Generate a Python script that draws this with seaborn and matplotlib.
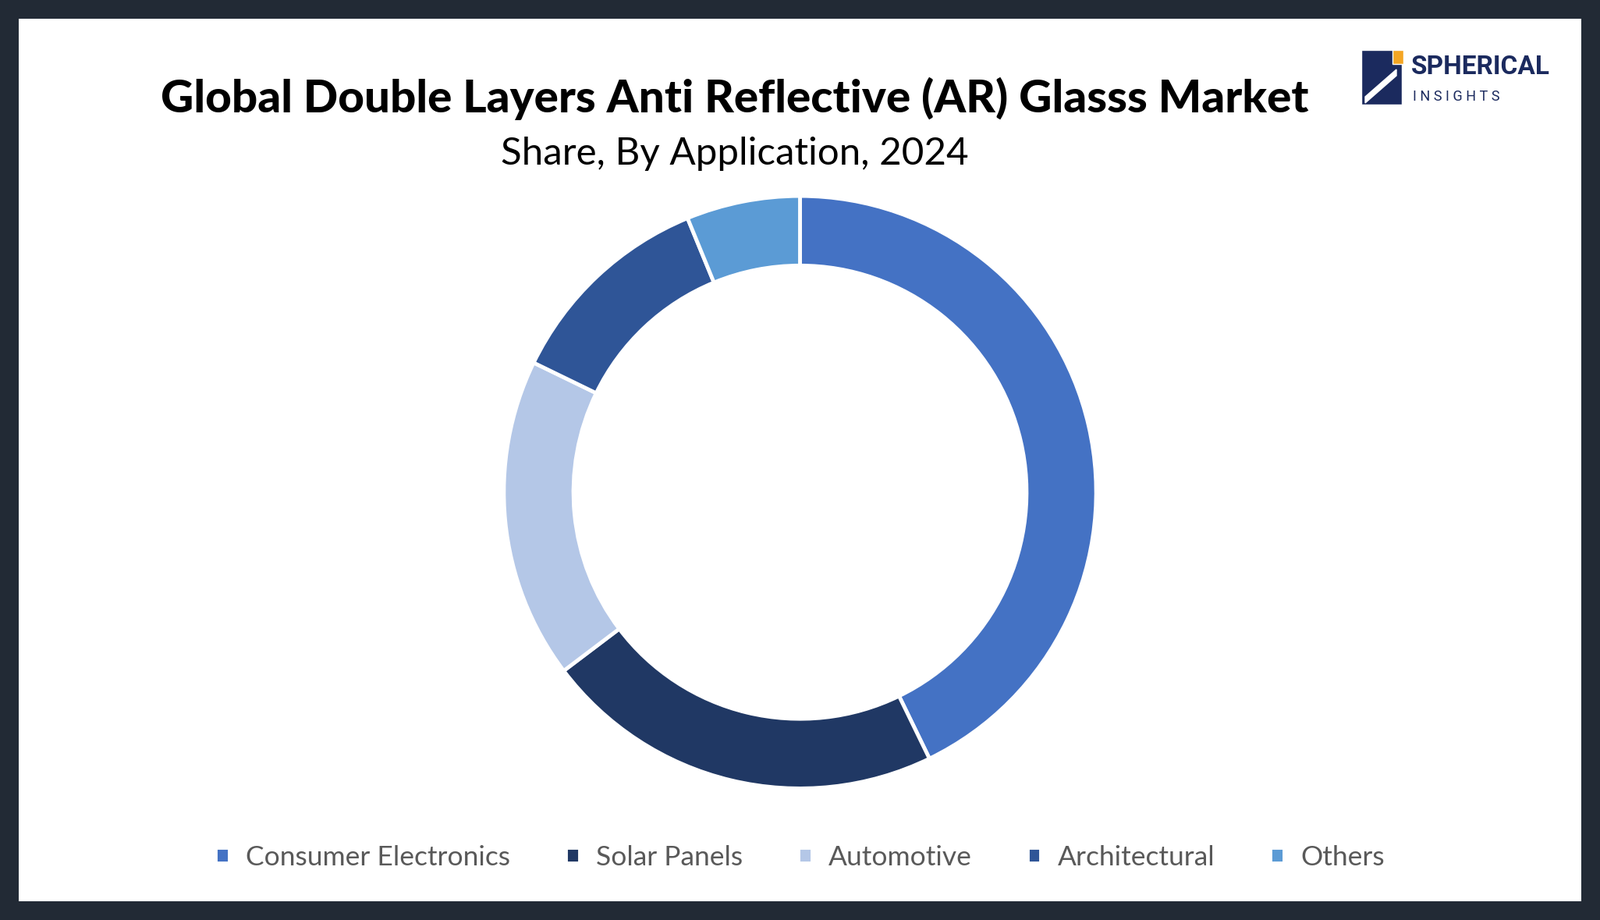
import matplotlib
matplotlib.use("Agg")
import matplotlib.pyplot as plt
import seaborn as sns
from matplotlib.patches import Rectangle, Polygon

categories = ["Consumer Electronics", "Solar Panels", "Automotive", "Architectural", "Others"]
shares = [42.8, 21.9, 17.5, 11.6, 6.2]
colors = ["#4472C4", "#203864", "#B4C7E7", "#2F5597", "#5B9BD5"]

sns.set_theme(style="white")
W, H = 2051, 1179
fig = plt.figure(figsize=(W/100, H/100), dpi=100)
fig.patch.set_facecolor("#222A35")
fig.add_artist(Rectangle((24/W, 24/H), 1-48/W, 1-48/H, transform=fig.transFigure,
                         facecolor="white", edgecolor="none", zorder=0))

h = 0.644
w = h*H/W
ax = fig.add_axes([0.5-w/2, 0.465-h/2, w, h])
wedges, _ = ax.pie(shares, colors=colors, startangle=90, counterclock=False, radius=1,
                   wedgeprops=dict(width=0.235, edgecolor="white", linewidth=3.5))
ax.set_xlim(-1, 1); ax.set_ylim(-1, 1); ax.set_aspect("equal"); ax.axis("off")

font = "Lato"
fig.text(0.459, 0.893, "Global Double Layers Anti Reflective (AR) Glasss Market", ha="center", va="center",
         fontsize=42, fontweight="heavy", family=font, color="black")
fig.text(0.459, 0.833, "Share, By Application, 2024", ha="center", va="center",
         fontsize=35.5, family=font, color="black")

leg = fig.legend(wedges, categories, loc="center", bbox_to_anchor=(0.5, 0.068), ncol=5, frameon=False,
                 prop={"family": font, "size": 25.5}, handlelength=0.5, handleheight=0.5,
                 columnspacing=2.0, handletextpad=0.6)
for t in leg.get_texts():
    t.set_color("#595959")

# logo
lx, ly = 1745/W, 1-134/H
fig.add_artist(Rectangle((lx, ly), 52/W, 70/H, transform=fig.transFigure, facecolor="#1B2A5E", zorder=2))
fig.add_artist(Rectangle((lx+40/W, ly+52/H), 14/W, 18/H, transform=fig.transFigure, facecolor="#F5A623", zorder=3))
fig.add_artist(Polygon([(lx+5/W, ly+10/H), (lx+45/W, ly+45/H), (lx+45/W, ly+37/H), (lx+5/W, ly+2/H)],
                       transform=fig.transFigure, facecolor="white", zorder=3))
fig.text(lx+64/W, ly+48/H, "SPHERICAL", fontsize=24, fontweight="bold", family="Roboto",
         color="#1B2A5E", va="center", ha="left", stretch="condensed")
fig.text(lx+66/W, ly+10/H, "I N S I G H T S", fontsize=13, family="Roboto",
         color="#1B2A5E", va="center", ha="left")

fig.savefig("out.png", dpi=100, facecolor=fig.get_facecolor())
